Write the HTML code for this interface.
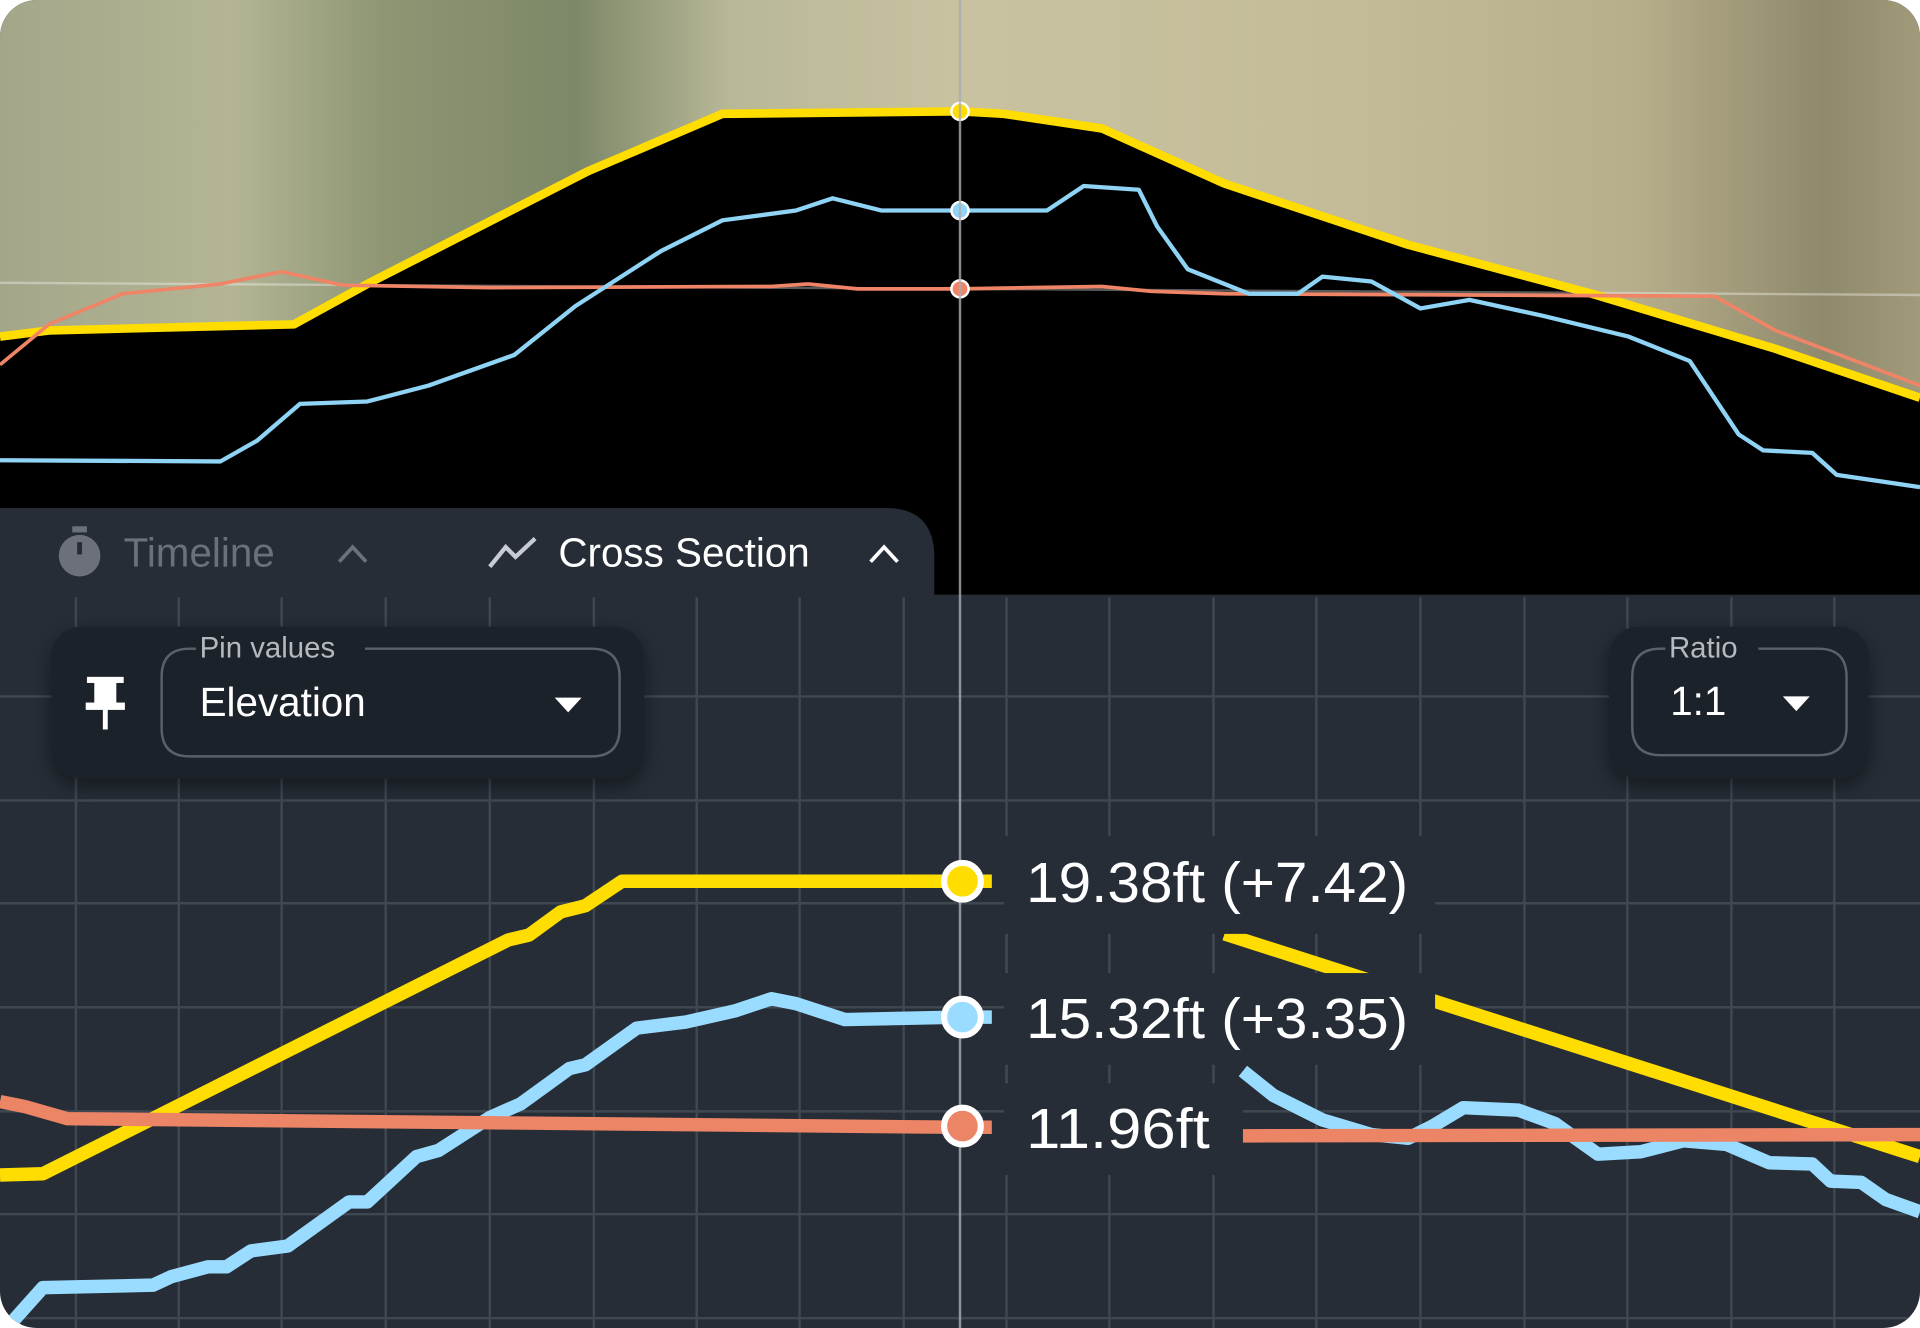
<!DOCTYPE html>
<html><head><meta charset="utf-8"><style>
html,body{margin:0;padding:0;background:#fff;width:1920px;height:1328px;overflow:hidden}
svg{display:block}
text{font-family:"Liberation Sans","DejaVu Sans",sans-serif}
</style></head><body>
<svg width="1920" height="1328" viewBox="0 0 1568 1085" preserveAspectRatio="none">
<defs>
<clipPath id="c"><rect x="0" y="0" width="1568" height="1085" rx="30"/></clipPath>
<linearGradient id="sat" x1="0" y1="0" x2="1" y2="0">
<stop offset="0" stop-color="#a3a689"/>
<stop offset="0.12" stop-color="#b4b594"/>
<stop offset="0.2" stop-color="#8e9673"/>
<stop offset="0.3" stop-color="#7d8868"/>
<stop offset="0.38" stop-color="#b8b897"/>
<stop offset="0.5" stop-color="#c8c2a1"/>
<stop offset="0.7" stop-color="#c4bc98"/>
<stop offset="0.85" stop-color="#b7ae8b"/>
<stop offset="0.95" stop-color="#8f8a6c"/>
<stop offset="1" stop-color="#a19a7a"/>
</linearGradient>
<filter id="sh" x="-20%" y="-20%" width="140%" height="160%"><feDropShadow dx="0" dy="6" stdDeviation="8" flood-color="#000" flood-opacity="0.45"/></filter>
</defs>
<g clip-path="url(#c)">
<rect width="1568" height="1085" fill="#262d36"/>
<!-- top satellite -->
<rect x="0" y="0" width="1568" height="486" fill="url(#sat)"/>
<path d="M0,275 L40,270 L240,265 L300,232 L480,140 L590,93 L784,91 L820,93 L900,105 L1000,150 L1150,200 L1300,240 L1450,285 L1568,325 L1568,486 L0,486 Z" fill="#000"/>
<line x1="0" y1="231" x2="784" y2="236" stroke="#ffffff" stroke-opacity="0.35" stroke-width="2"/>
<line x1="784" y1="236" x2="1568" y2="241" stroke="#ffffff" stroke-opacity="0.35" stroke-width="2"/>
<polyline fill="none" stroke="#ffdd00" stroke-width="7" stroke-linejoin="round" points="0,275 40,270 240,265 300,232 480,140 590,93 784,91 820,93 900,105 1000,150 1150,200 1300,240 1450,285 1568,325"/>
<polyline fill="none" stroke="#ef8467" stroke-width="3" points="0,298 40,265 100,240 180,232 230,222 280,233 400,235 630,234 660,232 700,236 784,236 900,234 940,238 1000,240 1400,242 1450,270 1568,315"/>
<polyline fill="none" stroke="#8fd3f5" stroke-width="3.5" stroke-linejoin="round" points="0,376 180,377 210,360 245,330 300,328 350,315 420,290 470,250 540,205 590,180 650,172 680,162 720,172 784,172 855,172 885,152 930,155 945,185 970,220 1020,240 1060,240 1080,226 1120,230 1160,252 1200,245 1260,258 1330,275 1380,295 1420,355 1440,368 1480,370 1500,388 1568,398"/>
<circle cx="784" cy="91" r="7" fill="#ffdd00" stroke="#fff" stroke-width="2"/>
<circle cx="784" cy="172" r="7" fill="#8fd3f5" stroke="#fff" stroke-width="2"/>
<circle cx="784" cy="236" r="7" fill="#ef8467" stroke="#fff" stroke-width="2"/>
<!-- tab panel -->
<path d="M0,415 L723,415 Q763,415 763,455 L763,490 L0,490 Z" fill="#262d36"/>
<!-- grid -->
<g stroke="#3f4751" stroke-width="2">
<line x1="62" y1="488" x2="62" y2="1085"/><line x1="146" y1="488" x2="146" y2="1085"/><line x1="230" y1="488" x2="230" y2="1085"/><line x1="315" y1="488" x2="315" y2="1085"/><line x1="400" y1="488" x2="400" y2="1085"/><line x1="485" y1="488" x2="485" y2="1085"/><line x1="569" y1="488" x2="569" y2="1085"/><line x1="653" y1="488" x2="653" y2="1085"/><line x1="738" y1="488" x2="738" y2="1085"/><line x1="822" y1="488" x2="822" y2="1085"/><line x1="906" y1="488" x2="906" y2="1085"/><line x1="991" y1="488" x2="991" y2="1085"/><line x1="1075" y1="488" x2="1075" y2="1085"/><line x1="1160" y1="488" x2="1160" y2="1085"/><line x1="1245" y1="488" x2="1245" y2="1085"/><line x1="1329" y1="488" x2="1329" y2="1085"/><line x1="1414" y1="488" x2="1414" y2="1085"/><line x1="1498" y1="488" x2="1498" y2="1085"/>
<line x1="0" y1="569" x2="1568" y2="569"/><line x1="0" y1="654" x2="1568" y2="654"/><line x1="0" y1="738" x2="1568" y2="738"/><line x1="0" y1="823" x2="1568" y2="823"/><line x1="0" y1="908" x2="1568" y2="908"/><line x1="0" y1="992" x2="1568" y2="992"/><line x1="0" y1="1077" x2="1568" y2="1077"/>
</g>
<line x1="784" y1="0" x2="784" y2="1085" stroke="#a9aeb4" stroke-opacity="0.8" stroke-width="2"/>
<!-- series bottom -->
<g fill="none" stroke-width="11" stroke-linejoin="round">
<polyline stroke="#ffdd00" points="0,960 35,959 415,768 432,764 458,745 478,740 508,720 784,720 810,720"/>
<polyline stroke="#ffdd00" points="1000,763 1568,945"/>
<polyline stroke="#99dcff" points="10,1080 35,1052 125,1050 140,1043 170,1035 185,1035 205,1022 235,1018 285,982 300,982 340,945 358,940 400,913 425,902 465,873 478,870 520,840 560,835 600,826 630,816 650,820 690,833 784,831 810,831"/>
<polyline stroke="#99dcff" points="1015,875 1040,895 1080,915 1120,927 1150,930 1170,920 1195,905 1240,907 1270,918 1305,943 1340,941 1375,932 1410,935 1445,950 1480,951 1495,965 1520,966 1540,980 1568,990"/>
<polyline stroke="#ec8466" points="0,900 20,904 55,914 784,921 810,921"/>
<polyline stroke="#ec8466" points="1015,928 1568,927"/>
</g>
<!-- label boxes -->
<rect x="820" y="683" width="352" height="80" fill="#262d36"/>
<rect x="820" y="795" width="352" height="75" fill="#262d36"/>
<rect x="820" y="885" width="195" height="75" fill="#262d36"/>
<g stroke="#3f4751" stroke-width="2"><line x1="822" y1="763" x2="822" y2="795"/><line x1="906" y1="763" x2="906" y2="795"/><line x1="991" y1="763" x2="991" y2="795"/><line x1="1160" y1="763" x2="1160" y2="795"/><line x1="822" y1="870" x2="822" y2="885"/><line x1="906" y1="870" x2="906" y2="885"/><line x1="991" y1="870" x2="991" y2="885"/></g>
<circle cx="786" cy="720" r="15" fill="#ffdd00" stroke="#fff" stroke-width="5"/>
<circle cx="786" cy="831" r="15" fill="#99dcff" stroke="#fff" stroke-width="5"/>
<circle cx="786" cy="920" r="15" fill="#ec8466" stroke="#fff" stroke-width="5"/>
<g fill="#fff" font-size="46">
<text x="838" y="737" textLength="312" lengthAdjust="spacingAndGlyphs">19.38ft (+7.42)</text>
<text x="838" y="848" textLength="312" lengthAdjust="spacingAndGlyphs">15.32ft (+3.35)</text>
<text x="838" y="938" textLength="150" lengthAdjust="spacingAndGlyphs">11.96ft</text>
</g>
<!-- tabs -->
<circle cx="65" cy="454" r="17" fill="#6b7079"/>
<rect x="59" y="430" width="12" height="5" fill="#6b7079"/>
<rect x="63" y="443" width="4" height="10" fill="#262d36"/>
<text x="101" y="463" font-size="33" fill="#6b7079">Timeline</text>
<polyline points="277,459 288,447 299,459" fill="none" stroke="#6b7079" stroke-width="3"/>
<polyline points="400,463 413,447 421,455 437,440" fill="none" stroke="#c8ccd2" stroke-width="3.5"/>
<text x="456" y="463" font-size="33" fill="#ffffff">Cross Section</text>
<polyline points="711,459 722,447 733,459" fill="none" stroke="#ffffff" stroke-width="3"/>
<!-- pin panel -->
<rect x="42" y="512" width="484" height="124" rx="24" fill="#1e232b" filter="url(#sh)"/>
<path d="M160,530 L155,530 Q132,530 132,553 L132,595 Q132,618 155,618 L483,618 Q506,618 506,595 L506,553 Q506,530 483,530 L298,530" fill="none" stroke="#5a616b" stroke-width="2"/>
<text x="163" y="537" font-size="24" fill="#b5b9bf">Pin values</text>
<text x="163" y="585" font-size="33" fill="#fff">Elevation</text>
<polygon points="453,570 475,570 464,582" fill="#fff"/>
<rect x="71" y="553" width="30" height="5" fill="#fff"/>
<rect x="77" y="556" width="18" height="20" fill="#fff"/>
<rect x="70" y="574" width="32" height="6" fill="#fff"/>
<rect x="84" y="578" width="4" height="18" fill="#fff"/>
<!-- ratio panel -->
<rect x="1314" y="512" width="212" height="124" rx="24" fill="#1e232b" filter="url(#sh)"/>
<path d="M1360,530 L1356,530 Q1333,530 1333,553 L1333,594 Q1333,617 1356,617 L1485,617 Q1508,617 1508,594 L1508,553 Q1508,530 1485,530 L1436,530" fill="none" stroke="#5a616b" stroke-width="2"/>
<text x="1363" y="537" font-size="24" fill="#b5b9bf">Ratio</text>
<text x="1364" y="584" font-size="33" fill="#fff">1:1</text>
<polygon points="1456,569 1478,569 1467,581" fill="#fff"/>
</g>
</svg>
</body></html>
